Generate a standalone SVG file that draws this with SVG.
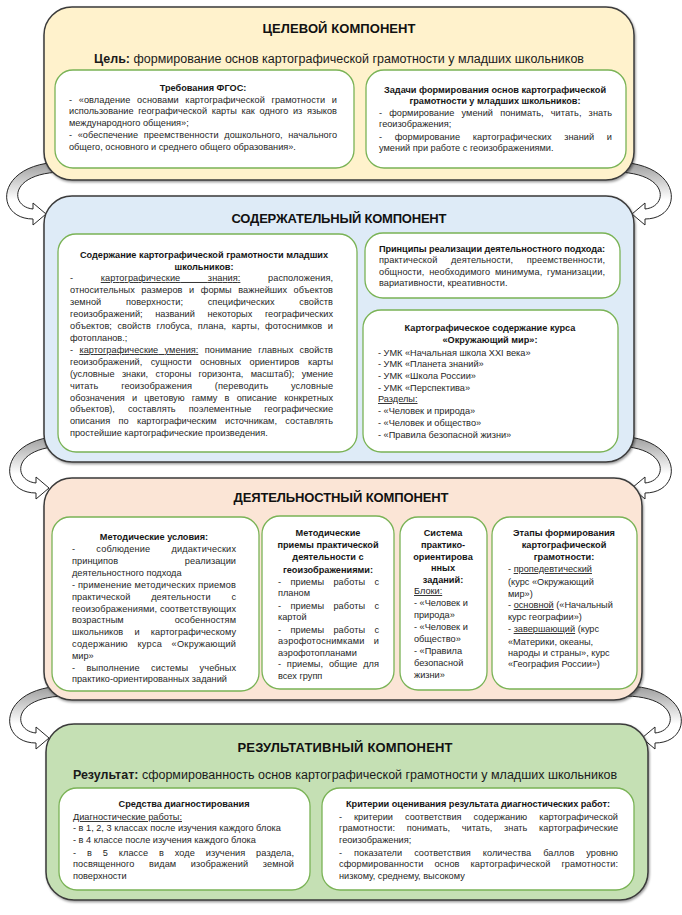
<svg xmlns="http://www.w3.org/2000/svg" width="682" height="915" viewBox="0 0 682 915">
<style>
text{font-family:"Liberation Sans",Arial,sans-serif;font-size:9.2px;fill:#262626}
.b{font-weight:bold;fill:#161616}
.c{text-anchor:middle}
.e{text-anchor:end}
.u{text-decoration:underline}
.h{font-size:13px;font-weight:bold;text-anchor:middle;fill:#111}
.g{font-size:12.5px;text-anchor:middle;fill:#1a1a1a}
.sec{stroke:#3a3a3a;stroke-width:1.5}
.box{fill:#fff;stroke:#7ab356;stroke-width:1.3}
.arr{fill:url(#ag);stroke:#262626;stroke-width:1}
</style>
<defs>
<linearGradient id="ag" x1="0" y1="0" x2="0" y2="1">
<stop offset="0" stop-color="#9c9c9c"/>
<stop offset="0.35" stop-color="#d6d6d6"/>
<stop offset="0.6" stop-color="#ffffff"/>
<stop offset="1" stop-color="#ffffff"/>
</linearGradient>
<filter id="sh" x="-5%" y="-5%" width="110%" height="115%">
<feDropShadow dx="1" dy="1.5" stdDeviation="1" flood-color="#000" flood-opacity="0.4"/>
</filter>
<path id="arrow" class="arr" d="M62,0 C-6,1 -6,57 33,57 L33,63 L46,52 L33,41 L33,47 C10,45 8,11 62,10 Z"/>
</defs>
<rect width="682" height="915" fill="#fff"/>

<g id="connectors">
<use href="#arrow" transform="translate(0,162)"/>
<use href="#arrow" transform="translate(678,162) scale(-1,1)"/>
<use href="#arrow" transform="translate(3,436)"/>
<use href="#arrow" transform="translate(678,436) scale(-1,1)"/>
<use href="#arrow" transform="translate(3,686)"/>
<use href="#arrow" transform="translate(688,686) scale(-1,1)"/>
</g>

<g id="target-component">
<rect class="sec" x="44" y="7" width="590" height="173" rx="28" fill="#fff2cc" filter="url(#sh)"/>
<text class="h" x="339" y="33" textLength="153">ЦЕЛЕВОЙ КОМПОНЕНТ</text>
<text class="g" x="339" y="63"><tspan font-weight="bold">Цель:</tspan> формирование основ картографической грамотности у младших школьников</text>
</g>
<g id="fgos">
<rect class="box" x="55" y="70" width="299" height="98" rx="18"/>
<text class="b c" x="203" y="91">Требования ФГОС:</text>
<text x="69" y="103" word-spacing="4" textLength="268">- «овладение основами картографической грамотности и</text>
<text x="69" y="114" word-spacing="2" textLength="268">использование географической карты как одного из языков</text>
<text x="69" y="126">международного общения»;</text>
<text x="69" y="138" word-spacing="3" textLength="268">- «обеспечение преемственности дошкольного, начального</text>
<text x="69" y="150">общего, основного и среднего общего образования».</text>
</g>
<g id="tasks">
<rect class="box" x="366" y="70" width="260" height="98" rx="18"/>
<text class="b c" x="495" y="93">Задачи формирования основ картографической</text>
<text class="b c" x="495" y="104">грамотности у младших школьников:</text>
<text x="379" y="116" word-spacing="4.5" textLength="233">- формирование умений понимать, читать, знать</text>
<text x="379" y="127">геоизображения;</text>
<text x="379" y="140" word-spacing="10" textLength="233">- формирование картографических знаний и</text>
<text x="379" y="151">умений при работе с геоизображениями.</text>
</g>

<g id="content-component">
<rect class="sec" x="44" y="196" width="590" height="266" rx="28" fill="#deebf7" filter="url(#sh)"/>
<text class="h" x="339" y="223" textLength="215">СОДЕРЖАТЕЛЬНЫЙ КОМПОНЕНТ</text>
</g>
<g id="literacy-content">
<rect class="box" x="58" y="234" width="299" height="218" rx="18"/>
<text class="b c" x="204" y="258">Содержание картографической грамотности младших</text>
<text class="b c" x="204" y="270">школьников:</text>
<text x="70" y="281" word-spacing="25" textLength="263">- <tspan class="u">картографические знания:</tspan> расположения,</text>
<text x="70" y="293" word-spacing="4" textLength="263">относительных размеров и формы важнейших объектов</text>
<text x="70" y="305" word-spacing="22" textLength="263">земной поверхности; специфических свойств</text>
<text x="70" y="317" word-spacing="10" textLength="263">геоизображений; названий некоторых географических</text>
<text x="70" y="329" word-spacing="3" textLength="263">объектов; свойств глобуса, плана, карты, фотоснимков и</text>
<text x="70" y="341">фотопланов.;</text>
<text x="70" y="353" word-spacing="3.8" textLength="263">- <tspan class="u">картографические умения:</tspan> понимание главных свойств</text>
<text x="70" y="365" word-spacing="6" textLength="263">геоизображений, сущности основных ориентиров карты</text>
<text x="70" y="377" word-spacing="4.7" textLength="263">(условные знаки, стороны горизонта, масштаб); умение</text>
<text x="70" y="389" word-spacing="20" textLength="263">читать геоизображения (переводить условные</text>
<text x="70" y="401" word-spacing="4.6" textLength="263">обозначения и цветовую гамму в описание конкретных</text>
<text x="70" y="412" word-spacing="10.4" textLength="263">объектов), составлять поэлементные географические</text>
<text x="70" y="424" word-spacing="5.8" textLength="263">описания по картографическим источникам, составлять</text>
<text x="70" y="436">простейшие картографические произведения.</text>
</g>
<g id="principles">
<rect class="box" x="365" y="233" width="255" height="65" rx="18"/>
<text class="b" x="379" y="252" textLength="226">Принципы реализации деятельностного подхода:</text>
<text x="379" y="263" word-spacing="11" textLength="226">практической деятельности, преемственности,</text>
<text x="379" y="275" word-spacing="2" textLength="226">общности, необходимого минимума, гуманизации,</text>
<text x="379" y="286">вариативности, креативности.</text>
</g>
<g id="course-content">
<rect class="box" x="363" y="310" width="255" height="142" rx="18"/>
<text class="b c" x="490" y="331">Картографическое содержание курса</text>
<text class="b c" x="490" y="343">«Окружающий мир»:</text>
<text x="378" y="356">- УМК «Начальная школа XXI века»</text>
<text x="378" y="367">- УМК «Планета знаний»</text>
<text x="378" y="379">- УМК «Школа России»</text>
<text x="378" y="391">- УМК «Перспектива»</text>
<text class="u" x="378" y="402">Разделы:</text>
<text x="378" y="414">- «Человек и природа»</text>
<text x="378" y="426">- «Человек и общество»</text>
<text x="378" y="438">- «Правила безопасной жизни»</text>
</g>

<g id="activity-component">
<rect class="sec" x="44" y="478" width="598" height="222" rx="28" fill="#fbe5d6" filter="url(#sh)"/>
<text class="h" x="341" y="502" textLength="215">ДЕЯТЕЛЬНОСТНЫЙ КОМПОНЕНТ</text>
</g>
<g id="method-conditions">
<rect class="box" x="52" y="517" width="207" height="174" rx="18"/>
<text class="b c" x="154" y="540">Методические условия:</text>
<text x="72" y="552" word-spacing="18.4" textLength="164">- соблюдение дидактических</text>
<text x="72" y="564" word-spacing="64" textLength="164">принципов реализации</text>
<text x="72" y="576">деятельностного подхода</text>
<text x="72" y="588" textLength="164">- применение методических приемов</text>
<text x="72" y="600" word-spacing="18.2" textLength="164">практической деятельности с</text>
<text x="72" y="612" textLength="164">геоизображениями, соответствующих</text>
<text x="72" y="623" word-spacing="48.3" textLength="164">возрастным особенностям</text>
<text x="72" y="635" word-spacing="8.6" textLength="164">школьников и картографическому</text>
<text x="72" y="647" word-spacing="6.7" textLength="164">содержанию курса «Окружающий</text>
<text x="72" y="659">мир»</text>
<text x="72" y="671" word-spacing="8.8" textLength="164">- выполнение системы учебных</text>
<text x="72" y="682">практико-ориентированных заданий</text>
</g>
<g id="method-techniques">
<rect class="box" x="262" y="516" width="132" height="173" rx="18"/>
<text class="b c" x="328" y="536">Методические</text>
<text class="b c" x="328" y="548">приемы практической</text>
<text class="b c" x="328" y="560">деятельности с</text>
<text class="b c" x="328" y="573">геоизображениями:</text>
<text x="278" y="585" word-spacing="6.6" textLength="101">- приемы работы с</text>
<text x="278" y="596">планом</text>
<text x="278" y="609" word-spacing="6.6" textLength="101">- приемы работы с</text>
<text x="278" y="620">картой</text>
<text x="278" y="633" word-spacing="6.6" textLength="101">- приемы работы с</text>
<text x="278" y="644" word-spacing="6.6" textLength="101">аэрофотоснимками и</text>
<text x="278" y="656">аэрофотопланами</text>
<text x="278" y="667" word-spacing="3.1" textLength="101">- приемы, общие для</text>
<text x="278" y="679">всех групп</text>
</g>
<g id="task-system">
<rect class="box" x="400" y="517" width="87" height="173" rx="18"/>
<text class="b c" x="443" y="536">Система</text>
<text class="b c" x="443" y="548">практико-</text>
<text class="b c" x="443" y="560">ориентирова</text>
<text class="b c" x="443" y="571">нных</text>
<text class="b c" x="443" y="583">заданий:</text>
<text class="u" x="414" y="594">Блоки:</text>
<text x="414" y="606">- «Человек и</text>
<text x="414" y="618">природа»</text>
<text x="414" y="630">- «Человек и</text>
<text x="414" y="642">общество»</text>
<text x="414" y="654">- «Правила</text>
<text x="414" y="666">безопасной</text>
<text x="414" y="678">жизни»</text>
</g>
<g id="stages">
<rect class="box" x="492" y="517" width="145" height="172" rx="18"/>
<text class="b c" x="564" y="536">Этапы формирования</text>
<text class="b c" x="564" y="548">картографической</text>
<text class="b c" x="564" y="560">грамотности:</text>
<text x="508" y="572">- <tspan class="u">пропедевтический</tspan></text>
<text x="508" y="585">(курс «Окружающий</text>
<text x="508" y="597">мир»)</text>
<text x="508" y="608">- <tspan class="u">основной</tspan> («Начальный</text>
<text x="508" y="620">курс географии»)</text>
<text x="508" y="632">- <tspan class="u">завершающий</tspan> (курс</text>
<text x="508" y="645">«Материки, океаны,</text>
<text x="508" y="656">народы и страны», курс</text>
<text x="508" y="667">«География России»)</text>
</g>

<g id="result-component">
<rect class="sec" x="46" y="724" width="602" height="176" rx="28" fill="#c5e0b4" filter="url(#sh)"/>
<text class="h" x="345" y="752" textLength="215">РЕЗУЛЬТАТИВНЫЙ КОМПОНЕНТ</text>
<text class="g" x="345" y="779"><tspan font-weight="bold">Результат:</tspan> сформированность основ картографической грамотности у младших школьников</text>
</g>
<g id="diagnostics">
<rect class="box" x="59" y="788" width="251" height="102" rx="18"/>
<text class="b c" x="184" y="807">Средства диагностирования</text>
<text class="u" x="73" y="820">Диагностические работы:</text>
<text x="73" y="831">- в 1, 2, 3 классах после изучения каждого блока</text>
<text x="73" y="843">- в 4 классе после изучения каждого блока</text>
<text x="73" y="856" word-spacing="8.2" textLength="221">- в 5 классе в ходе изучения раздела,</text>
<text x="73" y="867" word-spacing="12" textLength="221">посвященного видам изображений земной</text>
<text x="73" y="879">поверхности</text>
</g>
<g id="criteria">
<rect class="box" x="322" y="788" width="312" height="102" rx="18"/>
<text class="b c" x="478" y="807" textLength="264">Критерии оценивания результата диагностических работ:</text>
<text x="339" y="820" word-spacing="9.4" textLength="279">- критерии соответствия содержанию картографической</text>
<text x="339" y="831" word-spacing="9.1" textLength="279">грамотности: понимать, читать, знать картографические</text>
<text x="339" y="843">геоизображения;</text>
<text x="339" y="856" word-spacing="9.4" textLength="279">- показатели соответствия количества баллов уровню</text>
<text x="339" y="867" word-spacing="8.3" textLength="279">сформированности основ картографической грамотности:</text>
<text x="339" y="879">низкому, среднему, высокому</text>
</g>
</svg>
